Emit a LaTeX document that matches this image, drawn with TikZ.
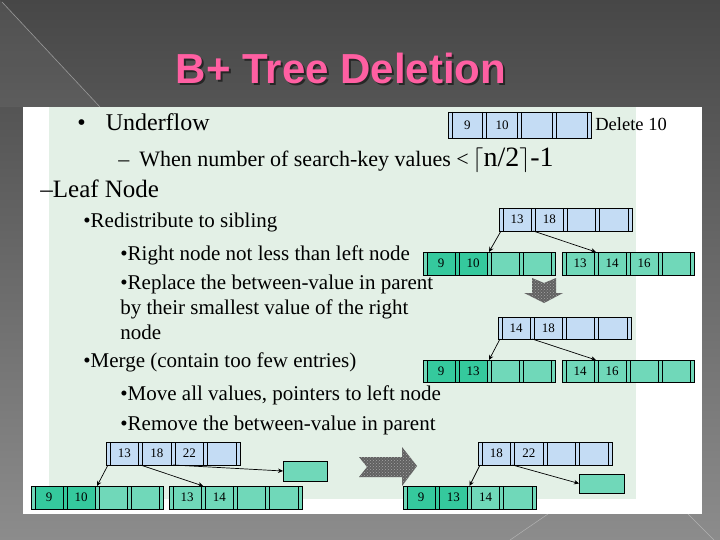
\documentclass[tikz,border=0pt]{standalone}
\usepackage{fontspec}
\setmainfont{Liberation Serif}
\newfontfamily\titlefont{Liberation Sans}
\usetikzlibrary{arrows.meta,positioning,calc,patterns}

\definecolor{slidetop}{HTML}{474747}
\definecolor{slidebot}{HTML}{8C8C8C}
\definecolor{panelgreen}{HTML}{E3F0E6}
\definecolor{keyblue}{HTML}{C4DCF4}
\definecolor{leaflight}{HTML}{70D8B9}
\definecolor{leafdark}{HTML}{35C99D}
\definecolor{titlepink}{HTML}{FF5FA2}

% one B+ tree node: name, top-left corner, width, height, fill, fill of cells 1-2, keys
\newcommand{\bpnode}[7]{%
  \begin{scope}[shift={#2}]
    \pgfmathsetmacro{\cw}{(#3-20)/4}
    \node[bpbox,fill=#5,minimum width=#3,minimum height=#4] (#1) at (0,0) {};
    \fill[#6] (4,0) rectangle ({2*\cw+8},#4);
    \foreach \j in {0,...,4} {
      \draw ({\j*(\cw+4)},0) -- ++(0,#4);
      \draw ({\j*(\cw+4)+4},0) -- ++(0,#4);
      \coordinate (#1-t\j) at ({\j*(\cw+4)+2},0);
      \coordinate (#1-b\j) at ({\j*(\cw+4)+2},#4);
    }
    \foreach \k [count=\i] in {#7}
      \node[keytext] (#1-\i) at ({(\i-1)*(\cw+4)+4+\cw/2},#4/2) {\k};
    \draw (#1.north west) rectangle (#1.south east);
  \end{scope}
}
\newcommand{\shadowed}[1]{\makebox[0pt][l]{\hspace{2pt}\raisebox{-2pt}{\color{black!85}#1}}#1}

\begin{document}
\begin{tikzpicture}[x=1pt,y=-1pt,line width=0.75pt,
  bpbox/.style={anchor=north west,inner sep=0pt,outer sep=0pt},
  keytext/.style={inner sep=0pt,font=\fontsize{13}{13}\selectfont},
  txt/.style={anchor=base west,inner sep=0pt,font=\fontsize{21}{25}\selectfont},
  titletxt/.style={font=\titlefont\bfseries\fontsize{42}{42}\selectfont},
  spare/.style={draw,fill=leaflight,anchor=north west,inner sep=0pt,outer sep=0pt},
  ptr/.style={-{Stealth[length=5pt,width=4.5pt]},line width=0.7pt},
  bigarrow/.style={fill=black!62,postaction={pattern=crosshatch dots,pattern color=black!35}}]
\useasboundingbox (0,0) rectangle (720,540);

% slide background
\shade[top color=slidetop,bottom color=slidebot] (0,0) rectangle (720,540);
\fill[white,opacity=0.05] (0,0) -- (100,107) -- (0,107) -- cycle;
\draw[black!40!white,line width=0.6pt] (2,2) -- (100,107);
\draw[black!30!white,line width=0.5pt] (510,540) -- (548,514);
\draw[black!30!white,line width=0.5pt] (688,514) -- (714,540);
\fill[white] (23,107) rectangle (702,514);
\fill[panelgreen] (49,107) rectangle (636,499);

% title
\node[titletxt,text=titlepink] (title) at (341,69) {\shadowed{B+ Tree Deletion}};

% bullet text
\node[txt,font=\fontsize{24}{28}\selectfont] (under) at (77,131)
  {\textbullet\hspace{20pt}Underflow};
\node[txt,font=\fontsize{22}{26}\selectfont] (when) at (118,167)
  {--\hspace{10pt}When number of search-key values <\,{\fontsize{28}{30}\selectfont$\lceil$n/2$\rceil$-1}};
\node[txt,font=\fontsize{25}{28}\selectfont] (leaf) at (40,197) {--Leaf Node};
\node[txt] (redis) at (83,227) {\textbullet Redistribute to sibling};
\node[txt] (right) at (120,260) {\textbullet Right node not less than left node};
\node[txt] (repl) at (120,289) {\textbullet Replace the between-value in parent};
\node[txt] (repl2) at (120,314) {by their smallest value of the right};
\node[txt] (repl3) at (120,339) {node};
\node[txt] (merge) at (83,367) {\textbullet Merge (contain too few entries)};
\node[txt] (move) at (120,400) {\textbullet Move all values, pointers to left node};
\node[txt] (remove) at (120,430) {\textbullet Remove the between-value in parent};

% delete 10
\bpnode{del}{(448,112)}{143}{26}{keyblue}{keyblue}{9,10}
\node[txt,font=\fontsize{18.5}{22}\selectfont] (dellabel) at (595,131) {Delete 10};

% redistribute
\bpnode{r0}{(499,208)}{133}{23}{keyblue}{keyblue}{13,18}
\bpnode{r1}{(423,252)}{132}{23}{leaflight}{leafdark}{9,10}
\bpnode{r2}{(562,252)}{132}{23}{leaflight}{leaflight}{13,14,16}
\draw[ptr] (r0-b0) -- (r1-t2);
\draw[ptr] (r0-b1) -- (r2-t1);

\path[bigarrow] (532,278) -- (544,283) -- (556,278) -- (556,293) -- (563,293)
  -- (544,303) -- (524,293) -- (532,293) -- cycle;

\bpnode{m0}{(498,317)}{133}{22}{keyblue}{keyblue}{14,18}
\bpnode{m1}{(423,360)}{132}{22}{leaflight}{leafdark}{9,13}
\bpnode{m2}{(562,360)}{132}{22}{leaflight}{leaflight}{14,16}
\draw[ptr] (m0-b0) -- (m1-t2);
\draw[ptr] (m0-b1) -- (m2-t1);

% merge
\bpnode{g0}{(106,442)}{134}{23}{keyblue}{keyblue}{13,18,22}
\bpnode{g1}{(31,486)}{132}{23}{leaflight}{leafdark}{9,10}
\bpnode{g2}{(169,486)}{133}{23}{leaflight}{leaflight}{13,14}
\node[spare,minimum width=44,minimum height=20] (g3) at (283,461) {};
\draw[ptr] (g0-b0) -- (g1-t2);
\draw[ptr] (g0-b1) -- (g2-t1);
\draw[ptr] (g0-b2) -- (g3.west);

\path[bigarrow] (359,457) -- (402,457) -- (402,447) -- (417,466) -- (402,486)
  -- (402,477) -- (359,477) -- (367,467) -- cycle;

\bpnode{h0}{(478,442)}{134}{23}{keyblue}{keyblue}{18,22}
\bpnode{h1}{(403,486)}{133}{23}{leaflight}{leafdark}{9,13,14}
\node[spare,minimum width=45,minimum height=19] (h2) at (579,474) {};
\draw[ptr] (h0-b0) -- (h1-t2);
\draw[ptr] (h0-b1) -- (h2.west);
\end{tikzpicture}
\end{document}
